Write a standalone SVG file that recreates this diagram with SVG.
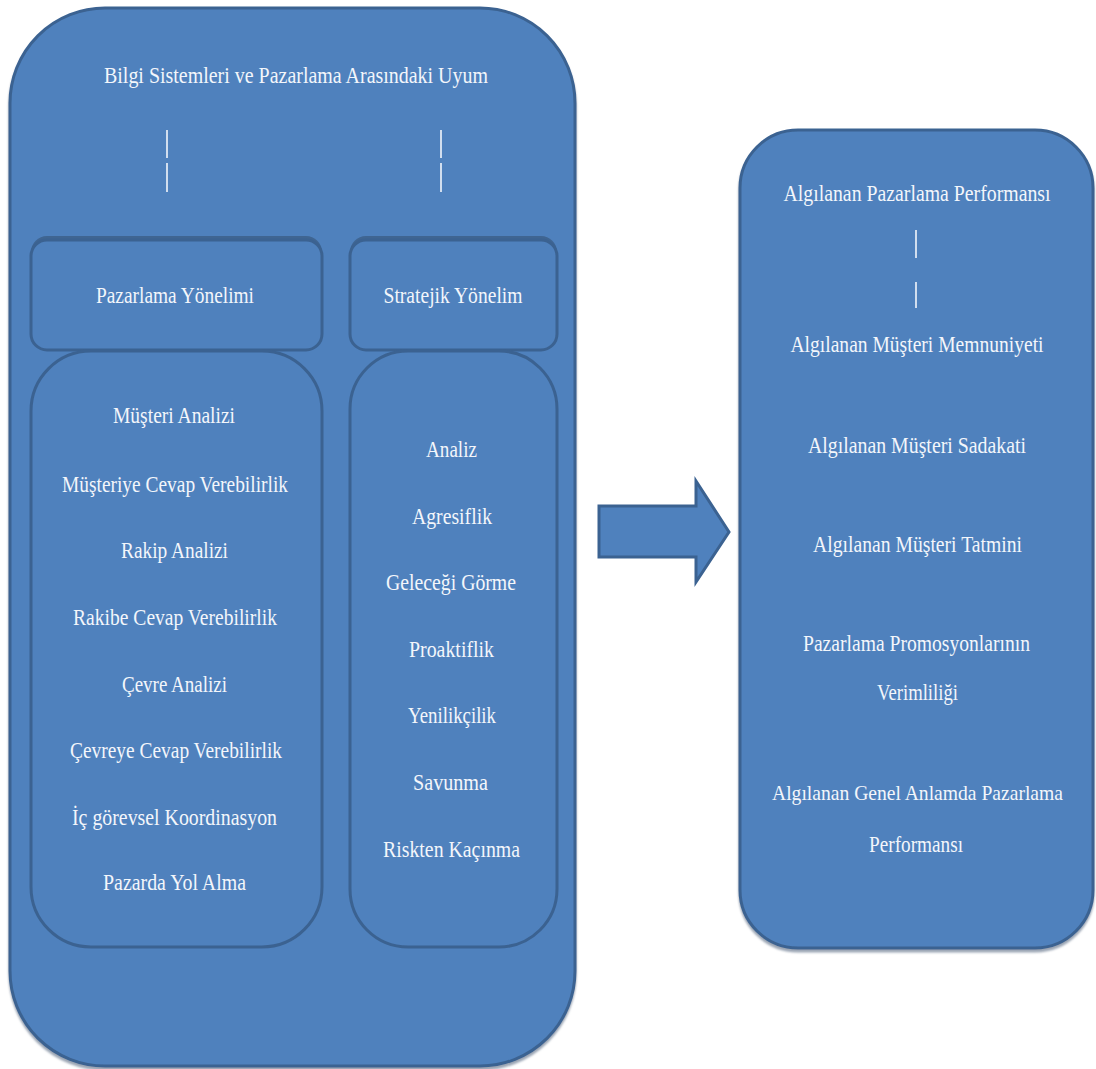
<svg xmlns="http://www.w3.org/2000/svg" width="1096" height="1069" viewBox="0 0 1096 1069">
<style>
.box{fill:#4F81BD;stroke:#3B6291;stroke-width:3}
.shadow{fill:#3F6592}
.t{font-family:"Liberation Serif","Times New Roman",serif;font-size:23px;fill:#F3F6FB;text-anchor:middle}
.ln{stroke:#F3F6FB;stroke-width:1.6}
</style>
<defs>
<filter id="ds" x="-5%" y="-5%" width="110%" height="110%">
<feDropShadow dx="0" dy="3" stdDeviation="1" flood-color="#6F7F94" flood-opacity="0.7"/>
</filter>
</defs>
<rect width="1096" height="1069" fill="#FFFFFF"/>

<g id="outer-left">
<rect class="box" x="10" y="8" width="565" height="1058" rx="95" ry="95" filter="url(#ds)"/>
<text class="t" x="296" y="83" textLength="384" lengthAdjust="spacingAndGlyphs">Bilgi Sistemleri ve Pazarlama Arasındaki Uyum</text>
</g>

<g id="pazarlama-yonelimi">
<rect class="shadow" x="31" y="236" width="291" height="112" rx="16" ry="16"/>
<rect class="box" x="31" y="240" width="291" height="110" rx="16" ry="16"/>
<text class="t" x="175" y="303" textLength="158" lengthAdjust="spacingAndGlyphs">Pazarlama Yönelimi</text>
</g>

<g id="stratejik-yonelim">
<rect class="shadow" x="350" y="236" width="207" height="112" rx="16" ry="16"/>
<rect class="box" x="350" y="240" width="207" height="110" rx="16" ry="16"/>
<text class="t" x="453" y="303" textLength="139" lengthAdjust="spacingAndGlyphs">Stratejik Yönelim</text>
</g>

<g id="pazarlama-listesi">
<rect class="box" x="31" y="351" width="291" height="596" rx="60" ry="60"/>
<text class="t" x="174" y="423" textLength="122" lengthAdjust="spacingAndGlyphs">Müşteri Analizi</text>
<text class="t" x="175" y="492" textLength="226" lengthAdjust="spacingAndGlyphs">Müşteriye Cevap Verebilirlik</text>
<text class="t" x="174.5" y="558" textLength="107" lengthAdjust="spacingAndGlyphs">Rakip Analizi</text>
<text class="t" x="175" y="625" textLength="204" lengthAdjust="spacingAndGlyphs">Rakibe Cevap Verebilirlik</text>
<text class="t" x="174.5" y="692" textLength="105" lengthAdjust="spacingAndGlyphs">Çevre Analizi</text>
<text class="t" x="176" y="758" textLength="212" lengthAdjust="spacingAndGlyphs">Çevreye Cevap Verebilirlik</text>
<text class="t" x="174.5" y="825" textLength="205" lengthAdjust="spacingAndGlyphs">İç görevsel Koordinasyon</text>
<text class="t" x="174.5" y="890" textLength="143" lengthAdjust="spacingAndGlyphs">Pazarda Yol Alma</text>
</g>

<g id="stratejik-listesi">
<rect class="box" x="350" y="351" width="207" height="596" rx="58" ry="58"/>
<text class="t" x="451.5" y="457" textLength="51" lengthAdjust="spacingAndGlyphs">Analiz</text>
<text class="t" x="452" y="524" textLength="80" lengthAdjust="spacingAndGlyphs">Agresiflik</text>
<text class="t" x="451" y="590" textLength="130" lengthAdjust="spacingAndGlyphs">Geleceği Görme</text>
<text class="t" x="451.5" y="657" textLength="85" lengthAdjust="spacingAndGlyphs">Proaktiflik</text>
<text class="t" x="452" y="723" textLength="88" lengthAdjust="spacingAndGlyphs">Yenilikçilik</text>
<text class="t" x="450.5" y="790" textLength="75" lengthAdjust="spacingAndGlyphs">Savunma</text>
<text class="t" x="451.5" y="857" textLength="137" lengthAdjust="spacingAndGlyphs">Riskten Kaçınma</text>
</g>

<g id="pazarlama-performansi">
<rect class="box" x="740" y="130" width="353" height="818" rx="58" ry="58" filter="url(#ds)"/>
<text class="t" x="917" y="201" textLength="267" lengthAdjust="spacingAndGlyphs">Algılanan Pazarlama Performansı</text>
<text class="t" x="917" y="352" textLength="253" lengthAdjust="spacingAndGlyphs">Algılanan Müşteri Memnuniyeti</text>
<text class="t" x="917" y="453" textLength="218" lengthAdjust="spacingAndGlyphs">Algılanan Müşteri Sadakati</text>
<text class="t" x="917.5" y="552" textLength="209" lengthAdjust="spacingAndGlyphs">Algılanan Müşteri Tatmini</text>
<text class="t" x="916.5" y="651" textLength="227" lengthAdjust="spacingAndGlyphs">Pazarlama Promosyonlarının</text>
<text class="t" x="917.5" y="700" textLength="81" lengthAdjust="spacingAndGlyphs">Verimliliği</text>
<text class="t" x="917.5" y="800" style="font-size:22px" textLength="291" lengthAdjust="spacingAndGlyphs">Algılanan Genel Anlamda Pazarlama</text>
<text class="t" x="916" y="852" textLength="94" lengthAdjust="spacingAndGlyphs">Performansı</text>
</g>

<g id="connectors">
<line class="ln" x1="167" y1="130" x2="167" y2="158"/>
<line class="ln" x1="167" y1="163" x2="167" y2="192"/>
<line class="ln" x1="441" y1="130" x2="441" y2="158"/>
<line class="ln" x1="441" y1="163" x2="441" y2="192"/>
<line class="ln" x1="916" y1="230" x2="916" y2="258"/>
<line class="ln" x1="916" y1="282" x2="916" y2="308"/>
<path id="big-arrow" d="M599,506 L696,506 L696,481 L729,532 L696,582 L696,557 L599,557 Z" fill="#4F81BD" stroke="#3B6291" stroke-width="3" stroke-linejoin="miter"/>
</g>
</svg>
